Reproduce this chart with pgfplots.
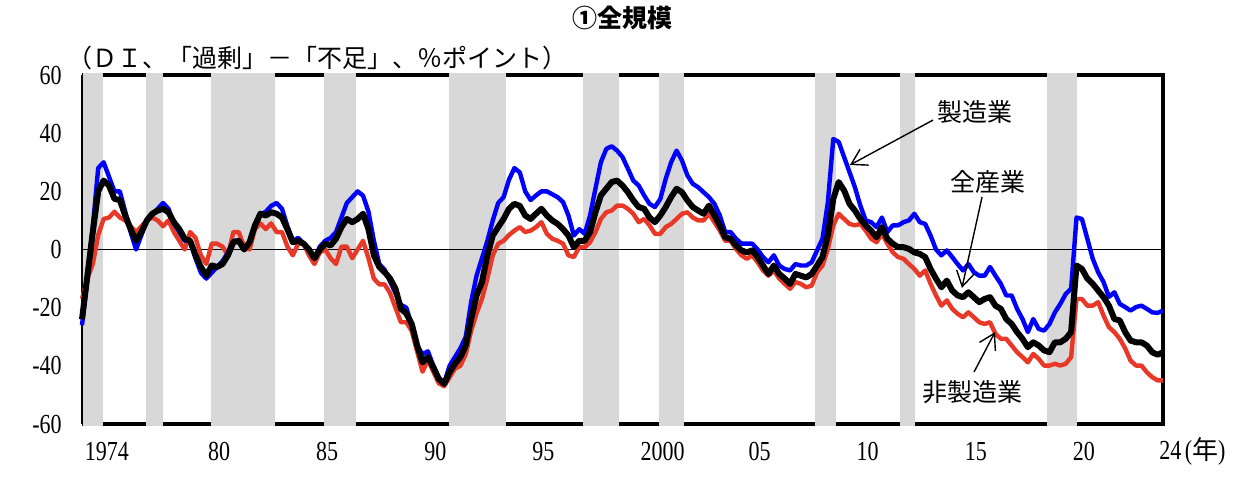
\documentclass[border=0pt]{standalone}
\usepackage{fontspec}
\setmainfont{Liberation Serif}
\newfontfamily\jp{Noto Sans CJK JP}
\usepackage{graphicx}
\usepackage{pgfplots}
\usepackage{pgfplotstable}
\pgfplotsset{compat=1.18}
\usetikzlibrary{arrows.meta}
\definecolor{mred}{RGB}{232,56,40}
\definecolor{mblue}{RGB}{0,0,255}
\definecolor{band}{RGB}{216,216,216}
\newcommand\tk[1]{\scalebox{1}[1.25]{\fontsize{11}{12}\selectfont #1}}
\newcommand\jt{\jp\fontsize{12.5}{14}\selectfont}

% i = quarter index from 1974Q1; m = manufacturing, a = all industries, n = non-manufacturing
\pgfplotstableread{
i m a n
0 -26 -24 -17
1 -10 -9 -10
2 8 6 -5
3 28 20 5
4 30 23.7 10.5
5 25 22 11
6 20 17.4 13
7 20 17 11
8 13 11.7 10
9 6 7 8
10 0 3 6
11 5 6 8
12 10 10 10
13 12 12.3 11
14 14 13.4 10
15 16 14 8
16 14 12.8 10
17 9 9.4 6
18 6 7 3
19 3 3.7 0
20 3 3 6
21 -3 -2 4
22 -8 -6 -2
23 -10 -9 -5
24 -8 -5.5 2
25 -6 -6 2
26 -4 -5 1
27 -1 -2 -2
28 3 2.5 6
29 3 3 6
30 0 0 1
31 2.5 2.5 0
32 8 8.3 7
33 12 12.3 9
34 13 11.7 7
35 15 12.8 9
36 16 12.3 6
37 14 11 6
38 8 7 1
39 3 2.5 -2
40 4 3 2
41 2 2 2
42 0 0 -2
43 -3 -3 -5
44 1 0 -1
45 3 2 0
46 4 1.4 -3
47 6 3.7 -5
48 11 7.7 1
49 16 10.5 1
50 18 9.4 -3
51 20 10.5 0
52 18.5 12.3 3
53 13 7 -3
54 3 -2 -10
55 -5 -6 -12
56 -7 -7.8 -12
57 -11 -10 -15
58 -15 -13.5 -20
59 -19 -20.4 -25
60 -20 -22 -25
61 -26 -25.6 -28
62 -33 -33 -35
63 -36 -38.8 -42
64 -35 -37 -38
65 -40 -40.5 -42
66 -44 -44.5 -46
67 -46 -46.2 -47
68 -40 -42.2 -44
69 -37 -39.3 -41
70 -34 -37 -40
71 -30 -33 -36
72 -18 -23.9 -28
73 -9 -15.8 -22
74 -3 -11.2 -17
75 3 -2 -10
76 10 4.8 -2
77 16 7.7 2
78 18 10.5 3
79 24 14 5
80 28 15.7 6.5
81 26.5 15 7.7
82 20 11.7 6
83 17 10.5 6.5
84 18.6 12.3 7.7
85 20 14 9.4
86 20 11.7 5.4
87 19 10 3.7
88 18 8.8 3
89 16.3 7 2
90 11.7 4.8 -2
91 4.8 0.8 -2.6
92 7 3 0.8
93 5.4 3 0.8
94 11.7 6 2.5
95 21 12.8 6
96 30 18.6 10.5
97 34.6 20.9 12.8
98 35.5 23.2 13.4
99 34 23.7 15.1
100 31.8 22 15.1
101 27.8 19.7 14
102 23.7 16.9 12.3
103 22 14.6 9.4
104 18.6 14 10.5
105 15.7 11 8.3
106 14.6 9.4 5.4
107 17.4 11.7 5.4
108 24.3 14.6 7.7
109 30 18 8.8
110 34 20.9 10.5
111 30.6 19.7 12.3
112 25.5 16.9 12.8
113 22.6 14.6 11
114 21.4 13.4 10
115 19.7 12.3 10
116 18 15.1 12.3
117 15.7 11.7 9.4
118 11.7 8.3 6.5
119 6 4.2 3
120 6 3.7 3
121 3.7 1.4 0.2
122 2 -0.3 -2
123 2 -1 -3.2
124 2 -0.3 -2
125 0 -2.6 -4.4
126 -2.6 -5.5 -7.2
127 -4.4 -8.4 -9
128 -2 -5.5 -7.2
129 -5.5 -8.4 -10
130 -6.7 -10 -11.8
131 -7.2 -11.8 -13.5
132 -5 -8.4 -11.2
133 -5.5 -9 -11.8
134 -5.5 -9.6 -13
135 -4.4 -8.4 -12.4
136 -0.3 -5.5 -7.8
137 3.7 -2.6 -5.5
138 16.3 4.8 0.2
139 38 17.4 8.3
140 37 23.2 12.3
141 31.8 20.3 10.5
142 26.6 15.7 8.8
143 21.4 13.4 8.3
144 15.1 10.5 8.8
145 10 8.3 6.5
146 9.4 6.5 3.7
147 7.7 4.2 2.5
148 11 7.7 5.4
149 6 3.7 2
150 8.3 2 -1
151 8.3 0.8 -2.6
152 9.4 0.8 -3.2
153 10 0.2 -5
154 12.3 -1 -6.7
155 9.4 -1.5 -9
156 8.8 -2.6 -7.2
157 4.8 -6.7 -11.8
158 0 -10 -15.8
159 -2 -13 -19.3
160 -0.3 -10.7 -17.5
161 -2.6 -14.1 -20.4
162 -5 -15.8 -22.1
163 -7.2 -16.4 -23.3
164 -5 -14.7 -21.6
165 -7.8 -16.4 -23.3
166 -9 -18.1 -25
167 -9 -17 -25.6
168 -6 -16.4 -25
169 -9 -19.3 -29
170 -11.8 -20.4 -30.7
171 -15.8 -23.9 -30.7
172 -15.8 -25.6 -33
173 -20.4 -28.4 -35.3
174 -23.9 -30.7 -37
175 -28.4 -33.6 -38.8
176 -23.9 -31.9 -35.9
177 -27.3 -33 -37.6
178 -27.9 -34.7 -39.9
179 -25.6 -35.3 -39.9
180 -21.6 -31.9 -39.3
181 -18.7 -31.9 -39.9
182 -15.3 -30.7 -39.3
183 -13.5 -28.4 -37
184 11 -5.5 -17
185 10.5 -6.7 -17
186 3.7 -10 -19.3
187 -3.2 -11.8 -19.3
188 -7.8 -14.1 -18.1
189 -11.2 -16.4 -22.7
190 -16.3 -19.3 -26.7
191 -14.7 -23.9 -28.4
192 -18.7 -24.4 -30.7
193 -19.8 -28.4 -34
194 -21 -31.3 -38.2
195 -19.8 -31.9 -39.9
196 -19.3 -31.9 -39.9
197 -20.4 -33 -42.2
198 -21.6 -35.3 -43.9
199 -21.8 -36.2 -45
200 -21 -35.3 -45
}\dat

\begin{document}
\begin{tikzpicture}
\begin{axis}[
  at={(0,0)}, anchor=south west,
  scale only axis, width=540.5pt, height=174.5pt,
  xmin=1974, xmax=2024, ymin=-60, ymax=60,
  axis line style={draw=none},
  clip=false,
  tick align=inside, tick pos=left,
  major tick length=3pt,
  ytick={-60,-40,-20,0,20,40,60},
  yticklabels={\tk{-60},\tk{-40},\tk{-20},\tk{0},\tk{20},\tk{40},\tk{60}},
  ytick style={black, line width=0.6pt},
  yticklabel style={anchor=east, inner sep=0pt, xshift=-10pt},
  xtick={1974.3,1980,1985,1990,1995,2000,2005,2010,2015,2020,2024},
  xticklabels={\tk{1974},\tk{80},\tk{85},\tk{90},\tk{95},\tk{2000},\tk{05},\tk{10},\tk{15},\tk{20},{\tk{24}\,\tk{(}{\jp\fontsize{13}{14}\selectfont 年}\tk{)}}},
  xtick style={draw=none},
  xticklabel style={anchor=west, inner sep=0pt, yshift=-13.75pt, xshift=-2pt},
]
% frame
\draw[line width=2pt] (rel axis cs:0,0) -- (rel axis cs:1,0) -- (rel axis cs:1,1) -- (rel axis cs:0,1);
\draw[line width=1.2pt] (rel axis cs:0,0) -- (rel axis cs:0,1);
% recession bands
\addplot[draw=none, fill=band, forget plot] coordinates {(1974.06,-60.7) (1974.97,-60.7) (1974.97,60.7) (1974.06,60.7)};
\addplot[draw=none, fill=band, forget plot] coordinates {(1976.96,-60.7) (1977.75,-60.7) (1977.75,60.7) (1976.96,60.7)};
\addplot[draw=none, fill=band, forget plot] coordinates {(1979.97,-60.7) (1982.93,-60.7) (1982.93,60.7) (1979.97,60.7)};
\addplot[draw=none, fill=band, forget plot] coordinates {(1985.19,-60.7) (1986.67,-60.7) (1986.67,60.7) (1985.19,60.7)};
\addplot[draw=none, fill=band, forget plot] coordinates {(1990.98,-60.7) (1993.61,-60.7) (1993.61,60.7) (1990.98,60.7)};
\addplot[draw=none, fill=band, forget plot] coordinates {(1997.17,-60.7) (1998.84,-60.7) (1998.84,60.7) (1997.17,60.7)};
\addplot[draw=none, fill=band, forget plot] coordinates {(2000.69,-60.7) (2001.84,-60.7) (2001.84,60.7) (2000.69,60.7)};
\addplot[draw=none, fill=band, forget plot] coordinates {(2007.90,-60.7) (2008.87,-60.7) (2008.87,60.7) (2007.90,60.7)};
\addplot[draw=none, fill=band, forget plot] coordinates {(2011.84,-60.7) (2012.53,-60.7) (2012.53,60.7) (2011.84,60.7)};
\addplot[draw=none, fill=band, forget plot] coordinates {(2018.63,-60.7) (2020.02,-60.7) (2020.02,60.7) (2018.63,60.7)};
% zero line
\draw[line width=0.7pt] (axis cs:1974,0) -- (axis cs:2024,0);
% series
\addplot[mred, line width=2.2pt, line join=round] table[x expr=1974+\thisrow{i}/4, y=n] {\dat};
\addplot[mblue, line width=2.2pt, line join=round] table[x expr=1974+\thisrow{i}/4, y=m] {\dat};
\addplot[black, line width=3pt, line join=round] table[x expr=1974+\thisrow{i}/4, y=a] {\dat};
% annotations
\node[font=\jt, inner sep=0pt] at (axis cs:2015.30,47.3) {製造業};
\draw[line width=0.7pt, -{Straight Barb[length=7.5pt,width=9pt,line width=0.7pt]}] (axis cs:2013.36,44.5) -- (axis cs:2009.52,29.06);
\node[font=\jt, inner sep=0pt] at (axis cs:2015.9,23.2) {全産業};
\draw[line width=0.7pt, -{Straight Barb[length=7.5pt,width=9pt,line width=0.7pt]}] (axis cs:2015.63,18.05) -- (axis cs:2014.70,-13.2);
\node[font=\jt, inner sep=0pt] at (axis cs:2015.21,-49.0) {非製造業};
\draw[line width=0.7pt, -{Straight Barb[length=7.5pt,width=9pt,line width=0.7pt]}] (axis cs:2015.26,-42.1) -- (axis cs:2016.23,-28.4);
% title and unit label
\node[font=\jp\bfseries\fontsize{12.5}{14}\selectfont, inner sep=0pt] at ([yshift=28.75pt]rel axis cs:0.5,1) {①全規模};
\node[font=\jt, inner sep=0pt, anchor=west] at ([xshift=-7.5pt,yshift=8.5pt]rel axis cs:0,1) {（ＤＩ、「過剰」－「不足」、％ポイント）};
\end{axis}
\pgfresetboundingbox
\useasboundingbox (-41pt,-27pt) rectangle (576pt,212pt);
\end{tikzpicture}
\end{document}
